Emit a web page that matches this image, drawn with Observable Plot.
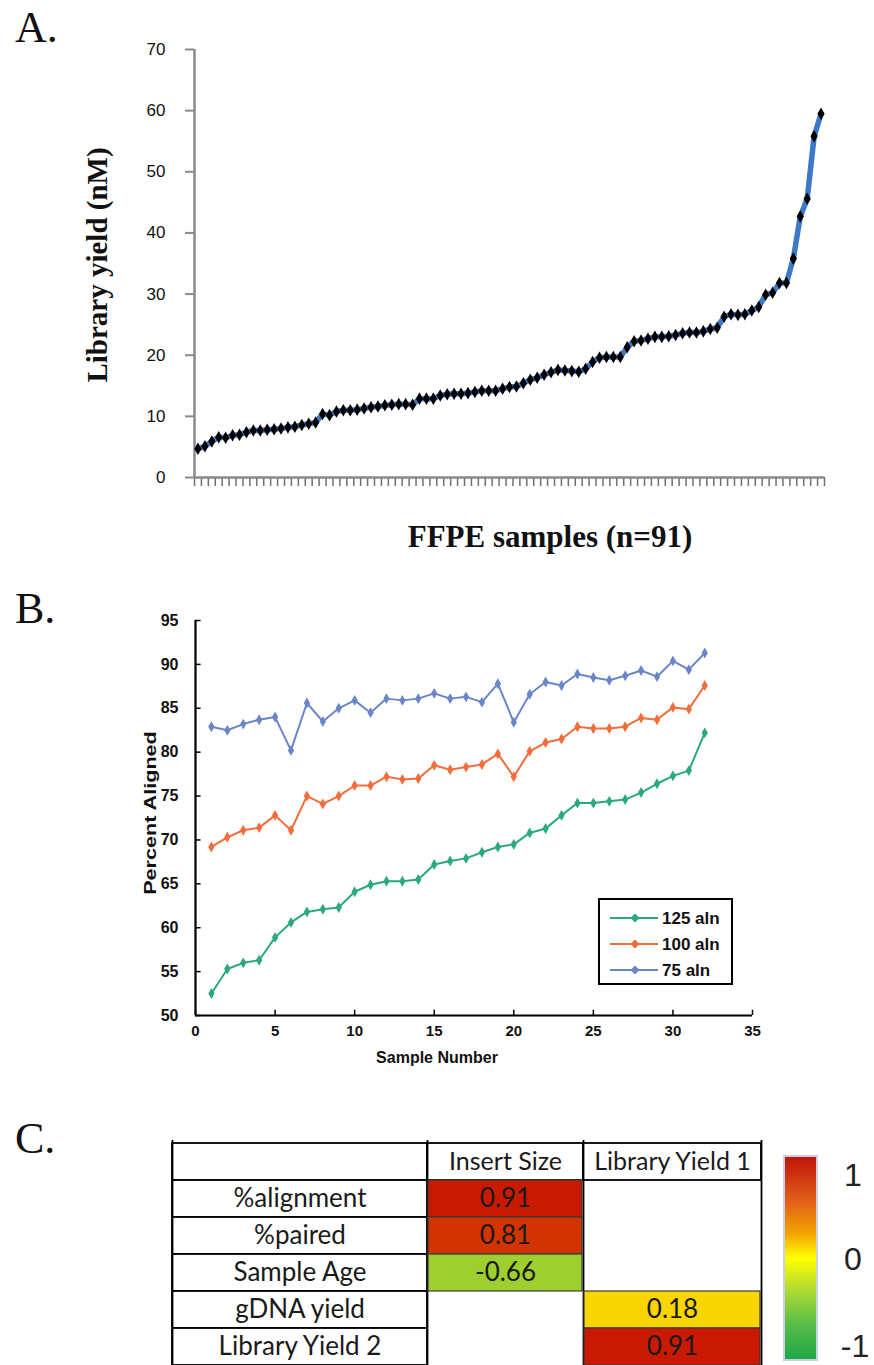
<!DOCTYPE html>
<html><head><meta charset="utf-8">
<script src="https://cdn.jsdelivr.net/npm/d3@7"></script>
<script src="https://cdn.jsdelivr.net/npm/@observablehq/plot@0.6"></script>
<style>
body{margin:0;background:#fff;}
#page{position:relative;width:874px;height:1365px;overflow:hidden;background:#fff;}
.abs{position:absolute;}
.lbl{position:absolute;transform:translate(-50%,-50%);white-space:nowrap;line-height:1;}
.panel{font-family:"Liberation Serif",serif;font-size:44px;color:#111;}
.serifb{font-family:"Liberation Serif",serif;font-weight:bold;color:#111;}
.sansb{font-family:"Liberation Sans",Arial,sans-serif;font-weight:bold;color:#111;}
svg{overflow:visible;}
</style></head>
<body><div id="page">
<div class="abs panel" style="left:15px;top:2px;">A.</div>
<div class="abs panel" style="left:15px;top:583px;">B.</div>
<div class="abs panel" style="left:15px;top:1113px;">C.</div>
<div class="lbl serifb" style="left:97px;top:265px;font-size:29px;transform:translate(-50%,-50%) rotate(-90deg);">Library yield (nM)</div>
<div class="lbl serifb" style="left:550px;top:536px;font-size:31px;">FFPE samples (n=91)</div>
<div class="lbl sansb" style="left:151px;top:813px;font-size:16px;transform:translate(-50%,-50%) rotate(-90deg) scaleX(1.35);">Percent Aligned</div>
<div class="lbl sansb" style="left:437px;top:1058px;font-size:16px;">Sample Number</div>
<div id="plotA" class="abs" style="left:0;top:0;"></div>
<div id="plotB" class="abs" style="left:0;top:590px;"></div>
<div id="legendB" class="abs" style="left:598px;top:898px;width:135px;height:87px;border:2px solid #000;box-sizing:border-box;background:#fff;"></div>
<div id="plotC" class="abs" style="left:0;top:1100px;"></div>
<div class="abs" style="left:783px;top:1155px;width:35px;height:206px;border:2px solid #c9d0ea;box-sizing:border-box;background:linear-gradient(to bottom,#c0140a 0%,#e2601a 22%,#f3a400 38%,#ffff00 50%,#b4dc30 65%,#5cbe48 82%,#1fa645 100%);"></div>
<div class="lbl" style="left:853px;top:1175px;font-family:'Liberation Sans',sans-serif;font-size:32px;color:#222;">1</div>
<div class="lbl" style="left:853px;top:1259px;font-family:'Liberation Sans',sans-serif;font-size:32px;color:#222;">0</div>
<div class="lbl" style="left:855px;top:1346px;font-family:'Liberation Sans',sans-serif;font-size:32px;color:#222;">-1</div>
</div>
<script>
// ---------- Panel A data ----------
const libraryYield = [4.7,5.1,5.9,6.6,6.5,6.9,7.0,7.4,7.7,7.7,7.8,7.9,8.0,8.2,8.3,8.6,8.8,9.0,10.4,10.2,
  10.8,11.0,11.0,11.1,11.3,11.5,11.6,11.8,11.9,12.0,12.0,11.9,12.9,12.9,12.9,13.4,13.6,13.7,13.7,13.8,
  14.0,14.2,14.2,14.2,14.5,14.8,14.9,15.4,16.0,16.3,16.8,17.2,17.6,17.5,17.4,17.3,17.8,18.9,19.6,19.7,
  19.7,19.7,21.3,22.3,22.4,22.7,23.0,23.0,23.1,23.3,23.6,23.7,23.7,23.9,24.3,24.5,26.3,26.7,26.6,26.7,
  27.3,27.9,29.9,30.2,31.8,31.8,35.8,42.7,45.6,55.8,59.5];
const yTicksA = [0,10,20,30,40,50,60,70];

// ---------- Panel B data ----------
const seriesNames = ["125 aln","100 aln","75 aln"];
const aln125 = [52.5,55.3,56.0,56.3,58.9,60.6,61.8,62.1,62.3,64.1,64.9,65.3,65.3,65.5,67.2,67.6,67.9,68.6,69.2,69.5,70.8,71.3,72.8,74.2,74.2,74.4,74.6,75.4,76.4,77.3,77.9,82.2];
const aln100 = [69.2,70.3,71.1,71.4,72.8,71.1,75.0,74.1,75.0,76.2,76.2,77.2,76.9,77.0,78.5,78.0,78.3,78.6,79.8,77.2,80.1,81.1,81.5,82.9,82.7,82.7,82.9,83.9,83.7,85.1,84.9,87.6];
const aln75 = [82.9,82.5,83.2,83.7,84.0,80.2,85.6,83.5,85.0,85.9,84.5,86.1,85.9,86.1,86.7,86.1,86.3,85.7,87.8,83.4,86.6,88.0,87.6,88.9,88.5,88.2,88.7,89.3,88.6,90.4,89.4,91.3];
const xTicksB = [0,5,10,15,20,25,30,35];
const yTicksB = [50,55,60,65,70,75,80,85,90,95];

// ---------- Panel C data ----------
const rowLabels = ["%alignment","%paired","Sample Age","gDNA yield","Library Yield 2"];
const colLabels = ["Insert Size","Library Yield 1"];
const insertSizeCorr = [0.91,0.81,-0.66,null,null];
const libraryYield1Corr = [null,null,null,0.18,0.91];

// ---------- Panel A ----------
const dataA = libraryYield.map((v,i)=>({sample:i+1, yield:v}));
const axisGray = "#8a8a8a";
const plotA = Plot.plot({
  width:874, height:500, marginLeft:194, marginRight:50, marginTop:49, marginBottom:23,
  x:{domain:[0.5,91.5]}, y:{domain:[0,70]},
  style:{fontFamily:"'Liberation Sans',Arial,sans-serif", background:"transparent"},
  marks:[
    Plot.axisY({ticks:yTicksA, tickSize:9, tickPadding:20, fontSize:17, stroke:axisGray, strokeWidth:2, fill:"#111", label:null}),
    Plot.axisX({ticks:d3.range(0.5,92,1), tickSize:9, tickFormat:()=>"", stroke:"#707070", strokeWidth:1.5, label:null}),
    Plot.ruleX([0.5], {stroke:axisGray, strokeWidth:2.5}),
    Plot.ruleY([0], {stroke:axisGray, strokeWidth:2.5}),
    Plot.line(dataA, {x:"sample", y:"yield", stroke:"#3d79c7", strokeWidth:5.5, curve:"linear"}),
    Plot.dot(dataA, {x:"sample", y:"yield", symbol:"diamond", r:3.8, fill:"#000"})
  ]
});
document.getElementById("plotA").appendChild(plotA);

// ---------- Panel B ----------
const colorsB = ["#2aa87f","#f26d3b","#6b86c8"];
const seriesArrays = [aln125, aln100, aln75];
const dataB = seriesArrays.flatMap((arr,k)=>arr.map((v,i)=>({sample:i+1, pct:v, series:seriesNames[k]})));
const plotB = Plot.plot({
  width:874, height:490, marginLeft:195, marginRight:122, marginTop:30, marginBottom:65,
  x:{domain:[0,35]}, y:{domain:[50,95]},
  color:{domain:seriesNames, range:colorsB},
  style:{fontFamily:"'Liberation Sans',Arial,sans-serif", fontWeight:"bold", background:"transparent", color:"#111"},
  marks:[
    Plot.axisY({ticks:yTicksB, tickSize:0, tickPadding:17, fontSize:16, label:null}),
    Plot.axisX({ticks:xTicksB, tickSize:0, tickPadding:10, fontSize:15, label:null}),
    Plot.ruleY(yTicksB, {x1:0, x2:0.35, stroke:"#000", strokeWidth:1.5}),
    Plot.ruleX(xTicksB, {y1:50, y2:50.6, stroke:"#000", strokeWidth:1.5}),
    Plot.ruleX([0], {stroke:"#000", strokeWidth:2.2}),
    Plot.ruleY([50], {stroke:"#000", strokeWidth:2.2}),
    Plot.line(dataB, {x:"sample", y:"pct", z:"series", stroke:"series", strokeWidth:2}),
    Plot.dot(dataB, {x:"sample", y:"pct", fill:"series", symbol:"diamond", r:3.3})
  ]
});
document.getElementById("plotB").appendChild(plotB);

// legend B
(function(){
  const ns = "http://www.w3.org/2000/svg";
  const svg = document.createElementNS(ns,"svg");
  svg.setAttribute("width",131); svg.setAttribute("height",83);
  seriesNames.forEach((name,k)=>{
    const y = 18 + k*26;
    const ln = document.createElementNS(ns,"line");
    ln.setAttribute("x1",10); ln.setAttribute("x2",58); ln.setAttribute("y1",y); ln.setAttribute("y2",y);
    ln.setAttribute("stroke",colorsB[k]); ln.setAttribute("stroke-width",2.2);
    svg.appendChild(ln);
    const dm = document.createElementNS(ns,"path");
    dm.setAttribute("d",`M35,${y-4.5}L39.5,${y}L35,${y+4.5}L30.5,${y}Z`);
    dm.setAttribute("fill",colorsB[k]);
    svg.appendChild(dm);
    const tx = document.createElementNS(ns,"text");
    tx.setAttribute("x",62); tx.setAttribute("y",y+6);
    tx.setAttribute("font-family","'Liberation Sans',Arial,sans-serif");
    tx.setAttribute("font-weight","bold"); tx.setAttribute("font-size","17");
    tx.setAttribute("fill","#111");
    tx.textContent = name;
    svg.appendChild(tx);
  });
  document.getElementById("legendB").appendChild(svg);
})();

// ---------- Panel C ----------
const headerKey = "header";
const corrCols = [insertSizeCorr, libraryYield1Corr];
const cells = colLabels.flatMap((c,j)=>corrCols[j].map((v,i)=>({row:rowLabels[i], col:c, j, v}))).filter(d=>d.v!=null);
const headers = colLabels.map((c,j)=>({col:c, j}));
const tableFont = "Lato, 'Liberation Sans', sans-serif";
const plotC = Plot.plot({
  width:874, height:265, marginTop:40, marginBottom:0, marginLeft:172, marginRight:113,
  x:{type:"linear", domain:[0,1,2,3], range:[172,427,583,761], axis:null},
  y:{type:"band", domain:[headerKey, ...rowLabels], range:[40,267], padding:0, axis:null},
  color:{type:"linear", domain:[-1,-0.6,0,0.5,1], range:["#2aa845","#b2d62a","#ffff00","#f08a00","#c00000"]},
  style:{background:"transparent"},
  marks:[
    Plot.barX([headerKey, ...rowLabels], {x1:0, x2:1, y:d=>d, fill:"#fff", stroke:"#000", strokeWidth:1.8}),
    Plot.barX(headers, {x1:d=>d.j+1, x2:d=>d.j+2, y:()=>headerKey, fill:"#fff", stroke:"#000", strokeWidth:1.8}),
    Plot.ruleX([0,1,2,3], {stroke:"#000", strokeWidth:1.8}),
    Plot.barX(cells, {x1:d=>d.j+1, x2:d=>d.j+2, y:"row", fill:"v", stroke:"#3a3a3a", strokeWidth:1.2, insetLeft:1, insetRight:1}),
    Plot.text(rowLabels, {x:0.5, y:d=>d, text:d=>d, fontSize:26, fontFamily:tableFont, fill:"#1a1a1a"}),
    Plot.text(headers, {x:d=>d.j+1.5, y:()=>headerKey, text:"col", fontSize:25, fontFamily:tableFont, fill:"#1a1a1a"}),
    Plot.text(cells, {x:d=>d.j+1.5, y:"row", text:d=>d.v.toFixed(2), fontSize:26, fontFamily:tableFont, fill:"#1a1a1a"})
  ]
});
document.getElementById("plotC").appendChild(plotC);
</script>
</body></html>
